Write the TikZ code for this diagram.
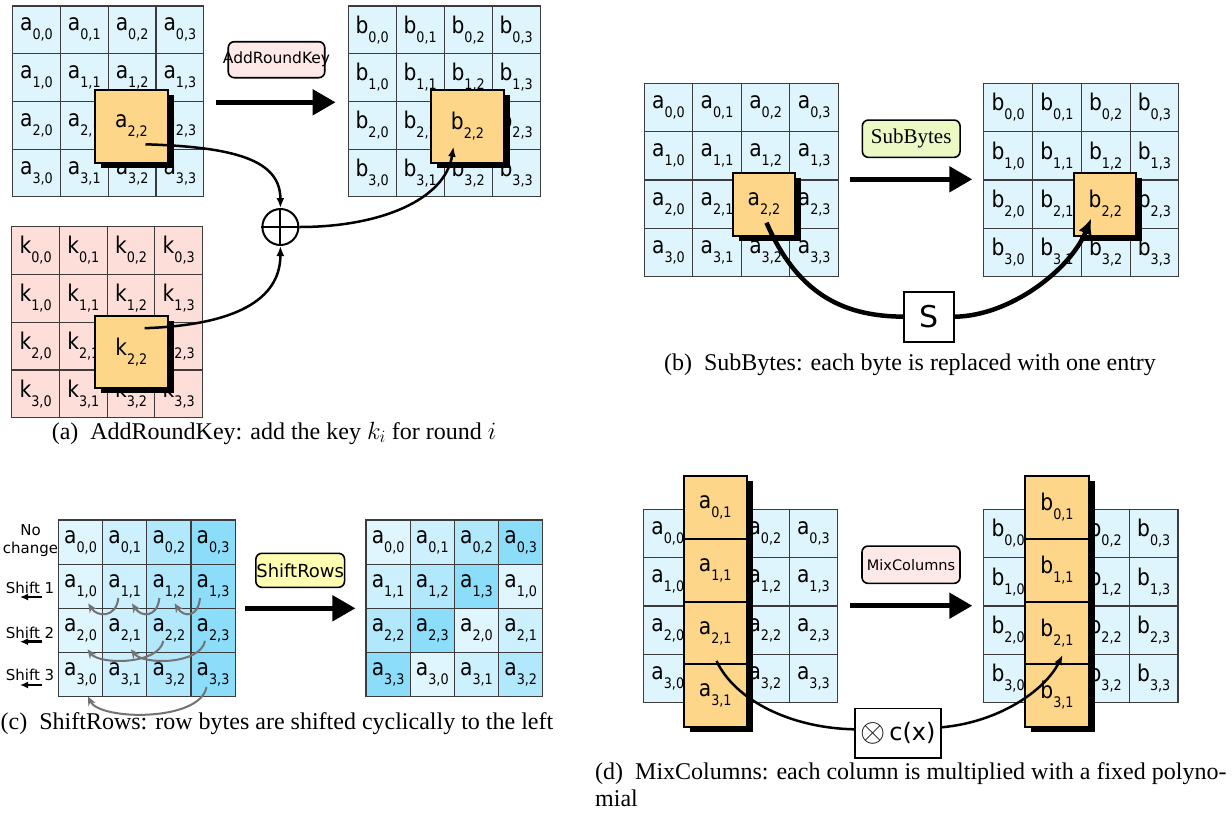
\documentclass[tikz,border=0pt]{standalone}
\usepackage{fontspec}
\setmainfont{Liberation Serif}
\newfontfamily\dvs{DejaVu Sans}
\newfontfamily\dvsc[FakeStretch=0.88]{DejaVu Sans}
\usetikzlibrary{arrows.meta,shadows}
\definecolor{cellb}{RGB}{223,245,253}
\definecolor{keyp}{RGB}{253,222,216}
\definecolor{orng}{RGB}{254,214,138}
\definecolor{gridc}{RGB}{60,60,60}
\definecolor{lblpink}{RGB}{255,232,232}
\definecolor{lblgreen}{RGB}{236,249,196}
\definecolor{lblyellow}{RGB}{255,255,178}
\definecolor{sc0}{RGB}{224,246,254}
\definecolor{sc1}{RGB}{204,240,253}
\definecolor{sc2}{RGB}{178,232,251}
\definecolor{sc3}{RGB}{140,221,250}
\definecolor{arcgray}{RGB}{115,115,115}
\newcommand{\cellv}[2]{{\dvsc\fontsize{23}{23}\selectfont #1}\raisebox{-9pt}{\dvsc\fontsize{14.5}{14.5}\selectfont #2}}
% #1 name, #2 letter, #3 x0, #4 y0, #5 cell width, #6 cell height, #7 fill, #8 hidden-text mode
\newcommand{\abgrid}[8]{%
\foreach \r in {0,...,3}{\foreach \c in {0,...,3}{%
 \pgfmathtruncatemacro{\hidflag}{(#8==1)*(\r==2)*(\c==2)+(#8==2)*(\c==1)}
 \node[cell, fill=#7, minimum width=#5pt, minimum height=#6pt] (#1-\r-\c) at ({#3+#5*(\c+0.5)},{#4+#6*(\r+0.5)}) {\ifnum\hidflag=0 \cellv{#2}{\r,\c}\fi};
}}
\draw[gridline] (#1-0-0.north west) rectangle (#1-3-3.south east);
\foreach \i in {1,2,3}{%
 \draw[gridline] (#1-0-\i.north west) -- (#1-3-\i.south west);
 \draw[gridline] (#1-\i-0.north west) -- (#1-\i-3.north east);
}}
\begin{document}
\begin{tikzpicture}[x=1pt,y=-1pt,
 cell/.style={draw=none,inner sep=0pt,outer sep=0pt},
 gridline/.style={draw=gridc,line width=1.1pt},
 hl/.style={draw=black,line width=2pt,fill=orng,inner sep=0pt,
   drop shadow={shadow xshift=6pt,shadow yshift=-5pt,fill=black,opacity=1}},
 lbl/.style={draw=black,line width=1.6pt,rounded corners=6pt,inner sep=0pt},
 bigarrow/.style={line width=5pt,-{Triangle[length=23pt,width=25pt]}},
 crv/.style={line width=2.5pt,-{Latex[length=10pt,width=8pt]}},
 thickcrv/.style={line width=4.5pt},
 arcg/.style={draw=arcgray,line width=2pt,-{Stealth[length=9pt,width=8pt]}},
 rowlbl/.style={font=\dvs\fontsize{15}{18}\selectfont,inner sep=0pt},
 shiftarr/.style={line width=2.5pt,-{Latex[length=8pt,width=7pt]}},
 captxt/.style={font=\fontsize{24}{27}\selectfont,inner sep=0pt}
]
\useasboundingbox (0,0) rectangle (1232,812);
\fill[white] (0,0) rectangle (1232,812);

% ---------------- (a) AddRoundKey ----------------
\abgrid{A}{a}{12.6}{6}{47.8}{47.7}{cellb}{1}
\abgrid{B}{b}{348.2}{6}{48}{47.7}{cellb}{1}
\abgrid{K}{k}{11.8}{226.7}{47.7}{47.75}{keyp}{1}
\node[hl, minimum width=73pt, minimum height=72.7pt] (ha) at (131.5,126.3) {\cellv{a}{2,2}};
\node[hl, minimum width=73.6pt, minimum height=72.7pt] (hb) at (467.5,126.3) {\cellv{b}{2,2}};
\node[hl, minimum width=73.3pt, minimum height=72.3pt] (hk) at (131.3,352.2) {\cellv{k}{2,2}};
\node[lbl, fill=lblpink, minimum width=96.5pt, minimum height=36pt, font=\dvs\fontsize{15.5}{15.5}\selectfont] (la) at (276.5,59.7) {\makebox[0pt]{AddRoundKey}};
\coordinate (aS) at (216.4,102.3);
\coordinate (aE) at (335.6,102.3);
\draw[bigarrow] (aS) -- (aE);
\node[circle, draw, line width=2pt, minimum size=36pt, inner sep=0pt] (xor) at (280.4,227) {};
\draw[line width=2pt] (xor.north) -- (xor.south) (xor.west) -- (xor.east);
\draw[crv] ([shift={(14,18)}]ha.center) .. controls (235,147) and (280.4,160) .. (xor.north);
\draw[crv] ([shift={(13.3,-24)}]hk.center) .. controls (235,325) and (280.4,300) .. (xor.south);
\draw[crv] (xor.east) .. controls (380,227) and (445,200) .. ([shift={(-14,20.4)}]hb.center);
\node[captxt, anchor=base] (capa) at (274,439) {(a)\enskip AddRoundKey: add the key $k_i$ for round $i$};

% ---------------- (b) SubBytes ----------------
\abgrid{SA}{a}{644.2}{83.3}{48.57}{48.35}{cellb}{1}
\abgrid{SB}{b}{983.8}{83.3}{48.75}{48.35}{cellb}{1}
\node[hl, minimum width=62.7pt, minimum height=63pt] (hsa) at (764,204.2) {\cellv{a}{2,2}};
\node[hl, minimum width=62.3pt, minimum height=63pt] (hsb) at (1105.3,204.2) {\cellv{b}{2,2}};
\node[lbl, fill=lblgreen, minimum width=97.7pt, minimum height=37.3pt, font=\fontsize{21}{21}\selectfont] (lb) at (911.2,138.7) {SubBytes};
\coordinate (bS) at (850.4,179.3);
\coordinate (bE) at (972.3,179.3);
\draw[bigarrow] (bS) -- (bE);
\node[draw, line width=1.6pt, fill=white, minimum width=50pt, minimum height=50pt, inner sep=0pt, font=\dvs\fontsize{30}{30}\selectfont] (sbox) at (928.8,316.7) {S};
\draw[thickcrv] ([shift={(2.5,18.5)}]hsa.center) .. controls (800,300) and (850,316) .. (sbox.west);
\draw[thickcrv,-{Latex[length=16pt,width=14pt]}] (sbox.east) .. controls (1010,316) and (1070,270) .. ([shift={(-14,14)}]hsb.center);
\node[captxt, anchor=base] (capb) at (910,370) {(b)\enskip SubBytes: each byte is replaced with one entry};

% ---------------- (c) ShiftRows ----------------
\foreach \r in {0,...,3}{\foreach \c in {0,...,3}{%
 \node[cell, fill=sc\c, minimum width=44.15pt, minimum height=44.17pt] (sl-\r-\c) at ({58.5+44.15*(\c+0.5)},{520+44.17*(\r+0.5)}) {\cellv{a}{\r,\c}};
 \pgfmathtruncatemacro{\j}{mod(\c+\r,4)}
 \node[cell, fill=sc\j, minimum width=44.2pt, minimum height=44.17pt] (sr-\r-\c) at ({366+44.2*(\c+0.5)},{520+44.17*(\r+0.5)}) {\cellv{a}{\r,\j}};
}}
\draw[gridline] (sl-0-0.north west) rectangle (sl-3-3.south east);
\draw[gridline] (sr-0-0.north west) rectangle (sr-3-3.south east);
\foreach \i in {1,2,3}{%
 \draw[gridline] (sl-0-\i.north west) -- (sl-3-\i.south west);
 \draw[gridline] (sl-\i-0.north west) -- (sl-\i-3.north east);
 \draw[gridline] (sr-0-\i.north west) -- (sr-3-\i.south west);
 \draw[gridline] (sr-\i-0.north west) -- (sr-\i-3.north east);
}
\node[lbl, fill=lblyellow, minimum width=88.7pt, minimum height=34pt, font=\dvs\fontsize{18}{18}\selectfont] (lc) at (300.2,570.3) {\makebox[0pt]{ShiftRows}};
\coordinate (cS) at (245.2,608.3);
\coordinate (cE) at (355.4,608.3);
\draw[bigarrow] (cS) -- (cE);
\node[rowlbl, align=center] (nc) at (30.5,541) {No\\change};
\node[rowlbl] (s1) at (30,588) {Shift 1};
\node[rowlbl] (s2) at (30,633.3) {Shift 2};
\node[rowlbl] (s3) at (30,675) {Shift 3};
\coordinate (s1a) at (42,597);   \coordinate (s1b) at (20,597);
\coordinate (s2a) at (42,641.7); \coordinate (s2b) at (20,641.7);
\coordinate (s3a) at (42,685);   \coordinate (s3b) at (20,685);
\draw[shiftarr] (s1a) -- (s1b);
\draw[shiftarr] (s2a) -- (s2b);
\draw[shiftarr] (s3a) -- (s3b);
\draw[arcg] ([shift={(-6.4,11.7)}]sl-1-1.center) .. controls +(-2,20) and +(9,14) .. ([shift={(7.7,17.2)}]sl-1-0.center);
\draw[arcg] ([shift={(-9.5,11.7)}]sl-1-2.center) .. controls +(-2,20) and +(9,14) .. ([shift={(7.3,17.2)}]sl-1-1.center);
\draw[arcg] ([shift={(-13,11.7)}]sl-1-3.center) .. controls +(-2,20) and +(9,14) .. ([shift={(5.7,17.2)}]sl-1-2.center);
\draw[arcg] ([shift={(-5.5,10.5)}]sl-2-2.center) .. controls +(-5,24) and +(12,15.5) .. ([shift={(7,19)}]sl-2-0.center);
\draw[arcg] ([shift={(-8,10.5)}]sl-2-3.center) .. controls +(-5,24) and +(12,15.5) .. ([shift={(6.3,19)}]sl-2-1.center);
\draw[arcg] ([shift={(-6.5,12.4)}]sl-3-3.center) .. controls +(-6.5,35) and +(12,24) .. ([shift={(7.4,22)}]sl-3-0.center);
\node[captxt, anchor=base] (capc) at (277,729) {(c)\enskip ShiftRows: row bytes are shifted cyclically to the left};

% ---------------- (d) MixColumns ----------------
\abgrid{MA}{a}{643.5}{509.3}{48.55}{48.35}{cellb}{2}
\abgrid{MB}{b}{983.8}{509.3}{48.55}{48.35}{cellb}{2}
\foreach \r/\y in {0/507.5,1/570.2,2/632.9,3/695.5}{%
 \node[hl, minimum width=62.7pt, minimum height=62.7pt] (ca-\r) at (715.2,\y) {\cellv{a}{\r,1}};
}
\foreach \r/\y in {0/507.5,1/570.2,2/632.9,3/695.5}{%
 \node[hl, minimum width=63.1pt, minimum height=62.7pt] (cb-\r) at (1057,\y) {\cellv{b}{\r,1}};
}
\node[lbl, fill=lblpink, minimum width=98pt, minimum height=37.3pt, font=\dvs\fontsize{14.5}{14.5}\selectfont] (ld) at (911,564.7) {\makebox[0pt]{MixColumns}};
\coordinate (dS) at (850.4,605.7);
\coordinate (dE) at (972.3,605.7);
\draw[bigarrow] (dS) -- (dE);
\node[draw, line width=1.6pt, fill=white, minimum width=85.8pt, minimum height=49.5pt, inner sep=0pt, font=\dvs\fontsize{24}{24}\selectfont] (cx) at (897.9,733.3) {\raisebox{-1pt}{\scalebox{1.3}{$\otimes$}}\,c(x)};
\draw[line width=2.5pt] ([shift={(1.3,28)}]ca-2.center) .. controls (735,700) and (790,728) .. ([yshift=4pt]cx.west);
\draw[crv] ([yshift=6pt]cx.east) .. controls (1000,722) and (1045,690) .. ([shift={(5.7,22)}]cb-2.center);
\node[captxt, anchor=north west, align=left] (capd) at (595,762.5) {(d)\enskip MixColumns: each column is multiplied with a fixed polyno-\\mial};
\end{tikzpicture}
\end{document}
